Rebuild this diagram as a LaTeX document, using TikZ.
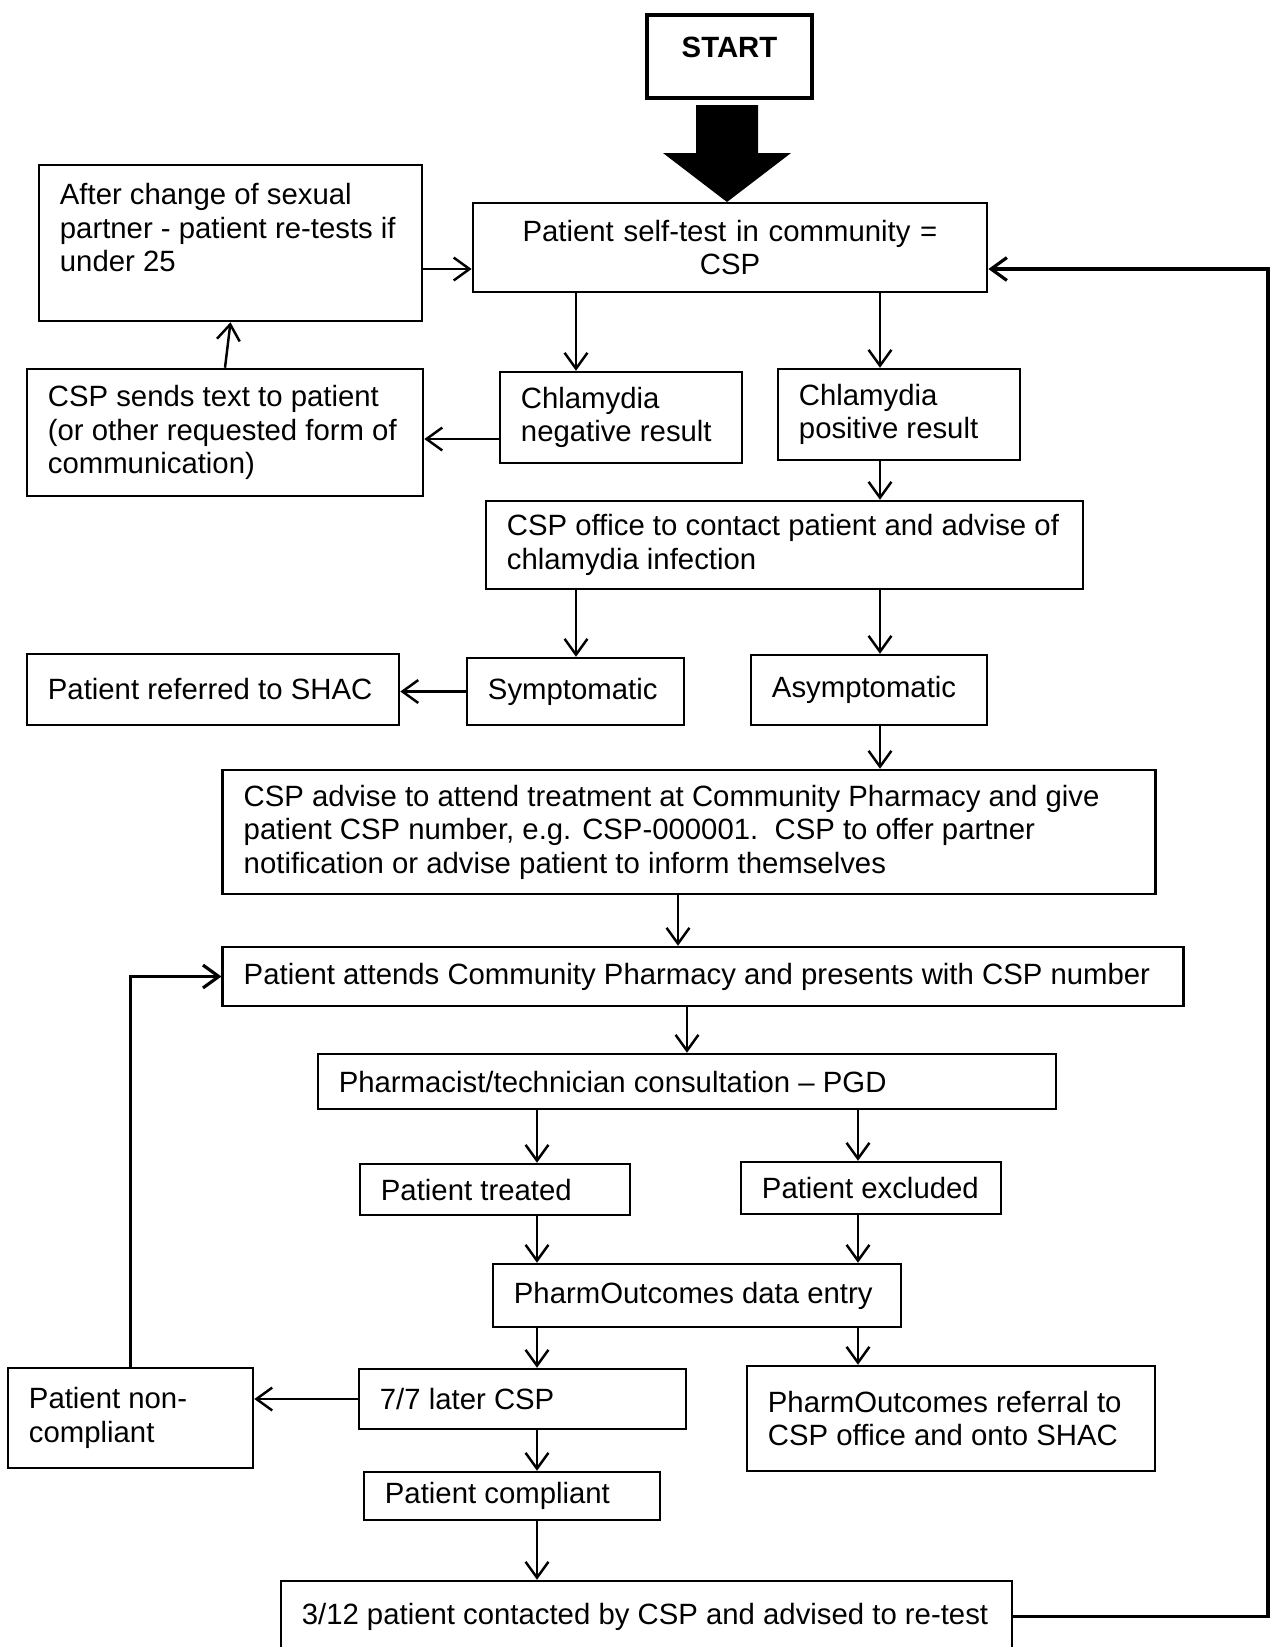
\documentclass[tikz,border=0pt]{standalone}
\usepackage{fontspec}
\setmainfont{Liberation Sans}
\usetikzlibrary{arrows.meta}
\tikzset{x=0.01cm, y=-0.01cm, % One unit is one pixel of the chart, y runs downwards
flowbox/.style 2 args={ % Sets the properties for each box: text width, height
draw, line width=0.7pt, align=flush left,
text width=#1, minimum height=#2,
inner xsep=0.21cm, inner ysep=1pt},
flow/.style={ % Sets the properties for each arrow
draw, line width=0.7pt,
-{Straight Barb[length=4.5pt,width=6.5pt]}},
longflow/.style={flow, line width=0.9pt}} % Loops back up the chart

\begin{document}
\begin{tikzpicture}[font=\fontsize{8.34}{9.5}\selectfont]

    \useasboundingbox (0,0) rectangle (1271,1647);
    \clip (0,0) rectangle (1271,1647);

    \node[draw, line width=1.15pt, minimum width=1.65cm, minimum height=0.83cm, font=\fontsize{8.34}{9.5}\selectfont\bfseries, text height=0.21cm, text depth=0.19cm] (start) at (729.5,56.5) {START};
    \fill (696,105) -- (758,105) -- (758,153) -- (791,153) -- (727,202) -- (663,153) -- (696,153) -- cycle;

    \node[flowbox={4.72cm}{0.89cm}, align=center] (selftest) at (730,247.5) {Patient self-test in community =\\ CSP};
    \node[flowbox={3.41cm}{1.56cm}] (after) at (230.5,243) {After change of sexual\\ partner - patient re-tests if\\ under 25\\[-0.8ex] \strut};
    \node[flowbox={3.54cm}{1.27cm}] (sends) at (225,432.5) {CSP sends text to patient\\ (or other requested form of\\ communication)};
    \node[flowbox={2.00cm}{0.91cm}] (neg) at (621,417.5) {Chlamydia\\ negative result};
    \node[flowbox={2.00cm}{0.91cm}] (pos) at (899,414.5) {Chlamydia\\ positive result};
    \node[flowbox={5.55cm}{0.88cm}] (office) at (784.5,545) {CSP office to contact patient and advise of\\ chlamydia infection};
    \node[flowbox={1.75cm}{0.67cm}] (sym) at (575.5,691.5) {Symptomatic};
    \node[flowbox={3.30cm}{0.71cm}] (shac) at (213,689.5) {Patient referred to SHAC};
    \node[flowbox={1.94cm}{0.70cm}] (asym) at (869,690) {Asymptomatic};
    \node[flowbox={8.90cm}{1.24cm}] (advise) at (689,832) {CSP advise to attend treatment at Community Pharmacy and give\\ patient CSP number, e.g. CSP-000001.\ \ CSP to offer partner\\ notification or advise patient to inform themselves};
    \node[flowbox={9.18cm}{0.59cm}] (attends) at (703,976.5) {Patient attends Community Pharmacy and presents with CSP number};
    \node[flowbox={6.96cm}{0.55cm}] (pharm) at (687,1081.5) {Pharmacist/technician consultation -- PGD};
    \node[flowbox={2.28cm}{0.51cm}] (treated) at (495,1189.5) {Patient treated};
    \node[flowbox={2.18cm}{0.52cm}] (excluded) at (871,1188) {Patient excluded};
    \node[flowbox={3.66cm}{0.63cm}] (data) at (697,1295.5) {PharmOutcomes data entry};
    \node[flowbox={2.85cm}{0.60cm}] (seven) at (522.5,1399) {7/7 later CSP};
    \node[flowbox={3.66cm}{1.05cm}] (referral) at (951,1418.5) {PharmOutcomes referral to\\ CSP office and onto SHAC};
    \node[flowbox={2.03cm}{1.00cm}] (noncomp) at (130.5,1418) {Patient non-\\ compliant};
    \node[flowbox={2.54cm}{0.48cm}] (compliant) at (512,1496) {Patient compliant};
    \node[flowbox={6.89cm}{0.71cm}] (retest) at (646.5,1616.5) {3/12 patient contacted by CSP and advised to re-test};

    % columns and rows the arrows run along
    \coordinate (cL) at (576,0);
    \coordinate (cR) at (880,0);
    \coordinate (cM) at (678,0);
    \coordinate (cT) at (537,0);
    \coordinate (cE) at (858,0);
    \coordinate (rA) at (0,269);
    \coordinate (rN) at (0,439);
    \coordinate (rc) at (1268,1616.5);

    \draw[flow] (after.east |- rA) -- (selftest.west |- rA);
    \draw[flow] (sends.north) -- (after.south);
    \draw[flow] (selftest.south -| cL) -- (neg.north -| cL);
    \draw[flow] (selftest.south -| cR) -- (pos.north -| cR);
    \draw[flow] (neg.west |- rN) -- (sends.east |- rN);
    \draw[flow] (pos.south -| cR) -- (office.north -| cR);
    \draw[flow] (office.south -| cL) -- (sym.north -| cL);
    \draw[flow] (office.south -| cR) -- (asym.north -| cR);
    \draw[flow] (sym.west) -- (shac.east |- sym.west);
    \draw[flow] (asym.south -| cR) -- (advise.north -| cR);
    \draw[flow] (advise.south -| cM) -- (attends.north -| cM);
    \draw[flow] (attends.south -| pharm.north) -- (pharm.north);
    \draw[flow] (pharm.south -| cT) -- (treated.north -| cT);
    \draw[flow] (pharm.south -| cE) -- (excluded.north -| cE);
    \draw[flow] (treated.south -| cT) -- (data.north -| cT);
    \draw[flow] (excluded.south -| cE) -- (data.north -| cE);
    \draw[flow] (data.south -| cT) -- (seven.north -| cT);
    \draw[flow] (data.south -| cE) -- (referral.north -| cE);
    \draw[flow] (seven.west) -- (noncomp.east |- seven.west);
    \draw[flow] (seven.south -| cT) -- (compliant.north -| cT);
    \draw[flow] (compliant.south -| cT) -- (retest.north -| cT);

    \draw[longflow] (noncomp.north) |- (attends.west);
    \draw[longflow] (retest.east) -- (rc) |- (selftest.east |- rA);

\end{tikzpicture}
\end{document}
